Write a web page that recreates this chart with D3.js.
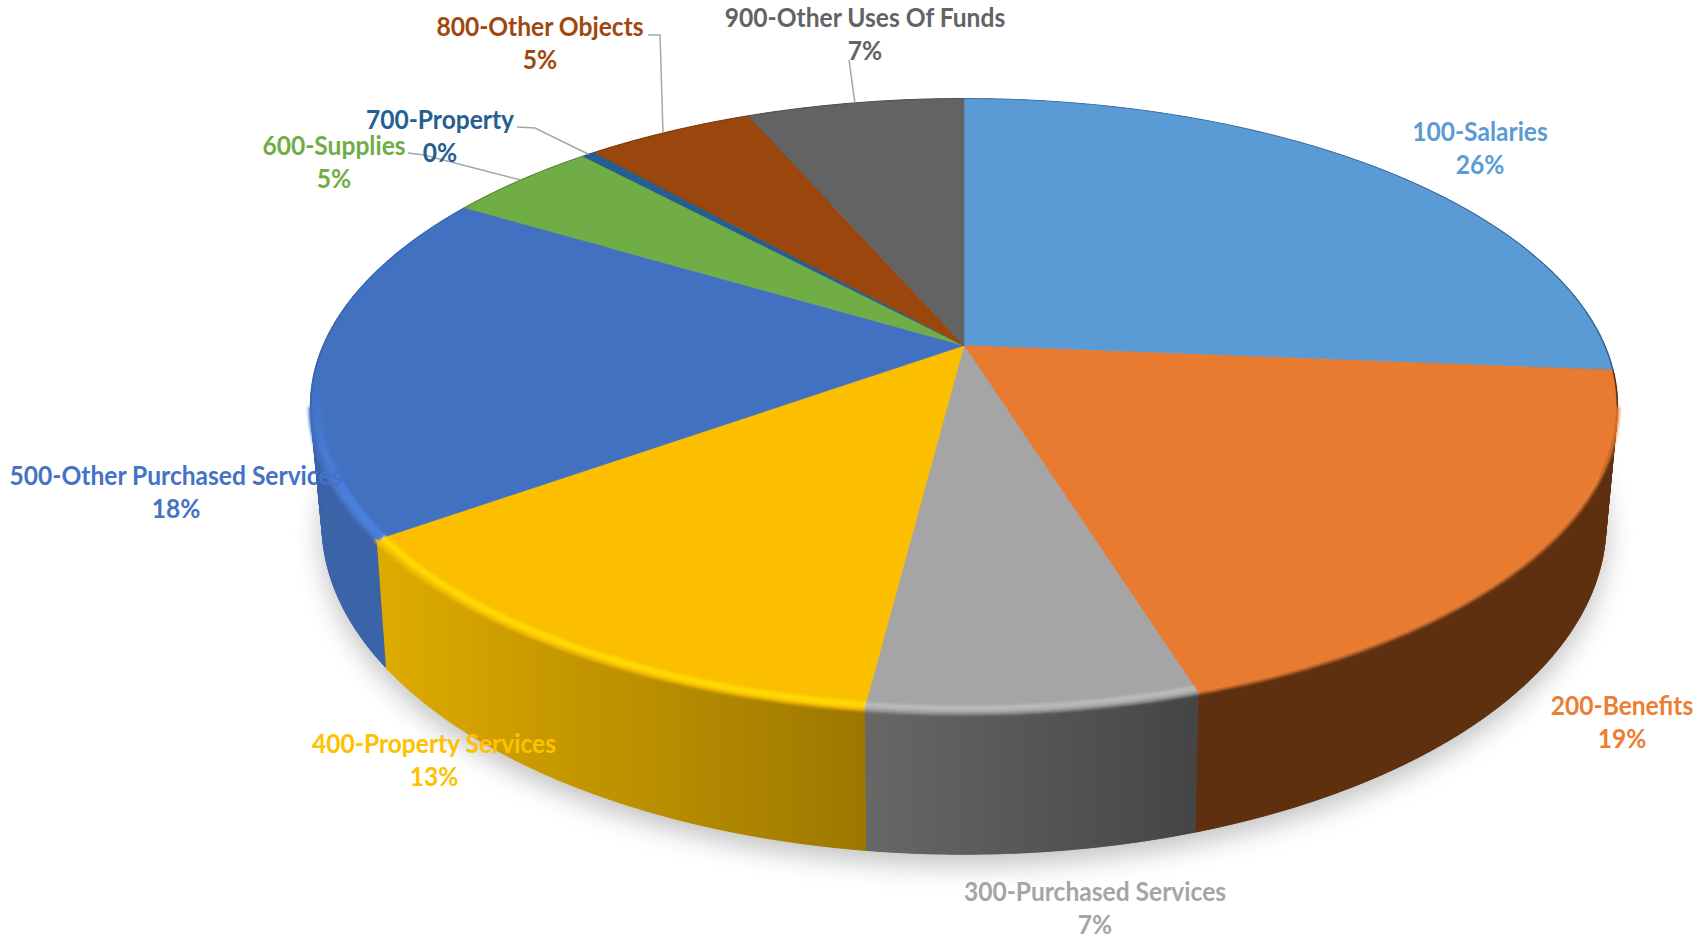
<!DOCTYPE html>
<html>
<head>
<meta charset="utf-8">
<script src="https://cdn.jsdelivr.net/npm/d3@7/dist/d3.min.js"></script>
<style>
html,body{margin:0;padding:0;background:#fff}
svg{display:block}
</style>
</head>
<body>
<svg id="chart" width="1704" height="939"></svg>
<script>
// Budget shares by object code
const categories = ["100-Salaries","200-Benefits","300-Purchased Services","400-Property Services",
  "500-Other Purchased Services","600-Supplies","700-Property","800-Other Objects","900-Other Uses Of Funds"];
const shares = [26.3,18.9,6.8,13.1,18.49,4.51,0.4,5.0,6.5];
const faceColors = ["#5B9BD5","#E97B30","#A5A5A5","#FBBF00","#4371C2","#70AD47","#255E91","#9A460C","#636363"];
const labelColors = ["#5B9BD5","#ED7D31","#A5A5A5","#FFC000","#4472C4","#70AD47","#255E91","#9E480E","#636363"];

// Text placement: centre x, baseline of the name line
const labelAnchors = [[1480,141],[1622,715],[1095,901],[434,753],[176,485],[334,155],[440,129],[540,36],[865,27]];
// Leader lines: elbow points and where along the slice's arc the line lands
const leaders = [
  {slice:5, elbow:[[408,153],[424,155]], along:0.5},
  {slice:6, elbow:[[517,127],[535,128]], along:0.5},
  {slice:7, elbow:[[648,35],[660,35]], along:0.46},
  {slice:8, elbow:[[849,60]], along:0.5}
];

const svg = d3.select("#chart");
const defs = svg.append("defs");

// Perspective projection of a unit disc: u to the right, v toward the viewer
const projector = (cx, cy, a, b, k) => (theta, r = 1) => {
  const u = r * Math.sin(theta), v = -r * Math.cos(theta), w = 1 - k * v;
  return [cx + a * u / w, cy + b * v / w];
};
const topDisc = projector(964, 345.6, 641, 295.3, 0.1954);
const baseDisc = projector(964, 458, 629, 317, 0.2);

const arcs = d3.pie().sort(null).value(d => d)(shares);
const line = d3.line();
const sampleAngles = (a0, a1) => {
  const n = Math.max(2, Math.ceil((a1 - a0) / 0.01));
  return d3.range(n + 1).map(i => a0 + (a1 - a0) * i / n);
};

const blurFilter = (id, sd) => defs.append("filter").attr("id",id)
  .attr("filterUnits","userSpaceOnUse").attr("x",0).attr("y",0).attr("width",1704).attr("height",939)
  .append("feGaussianBlur").attr("stdDeviation",sd);
blurFilter("shadowBlur",14);
blurFilter("edgeBlur",1.6);
blurFilter("bevelBlur",1.2);

const hGradient = (id, x1, c1, x2, c2) => {
  const g = defs.append("linearGradient").attr("id",id).attr("gradientUnits","userSpaceOnUse")
    .attr("x1",x1).attr("x2",x2).attr("y1",0).attr("y2",0);
  g.append("stop").attr("offset",0).attr("stop-color",c1);
  g.append("stop").attr("offset",1).attr("stop-color",c2);
};
hGradient("wallYellow",390,"#DCAA00",868,"#9C7700");
hGradient("wallGray",868,"#676767",1195,"#454545");
const wallFills = ["#2F5F8F","#5E3010","url(#wallGray)","url(#wallYellow)","#3A63A8","#4F7A32","#1B4368","#6E330A","#474747"];

// Soft ground shadow under the base
svg.append("path")
  .attr("d", line(sampleAngles(0, 2*Math.PI).map(t => {
    const p = baseDisc(t); return [p[0], p[1] + 10];
  })) + "Z")
  .attr("fill","#000").attr("opacity",0.25).attr("filter","url(#shadowBlur)");

// Outer walls: short quads keep the side silhouette filled, a single strip on top hides their seams
arcs.forEach((d, i) => {
  const ts = sampleAngles(d.startAngle, d.endAngle);
  const wall = svg.append("g").attr("fill", wallFills[i]).attr("stroke", wallFills[i]).attr("stroke-width",0.6);
  wall.selectAll("path").data(d3.pairs(ts)).join("path")
    .attr("d", ([t0, t1]) => line([topDisc(t0), topDisc(t1), baseDisc(t1), baseDisc(t0)]) + "Z");
  wall.append("path")
    .attr("d", line(ts.map(t => topDisc(t)).concat(ts.slice().reverse().map(t => baseDisc(t)))) + "Z");
});

// Soft seam where the face turns into the wall, on the visible front half only
const frontStart = Math.PI / 2 + 0.2, frontEnd = 3 * Math.PI / 2 - 0.2;
svg.append("g").attr("filter","url(#edgeBlur)").selectAll("path")
  .data(arcs.filter(d => d.endAngle > frontStart && d.startAngle < frontEnd)).join("path")
  .attr("d", d => line(sampleAngles(Math.max(d.startAngle, frontStart), Math.min(d.endAngle, frontEnd)).map(t => topDisc(t))))
  .attr("fill","none").attr("stroke",d => faceColors[d.index]).attr("stroke-width",4);

// Top faces
svg.append("g").selectAll("path").data(arcs).join("path")
  .attr("d", d => line([topDisc(0,0)].concat(sampleAngles(d.startAngle, d.endAngle).map(t => topDisc(t, 0.998)))) + "Z")
  .attr("fill", (d,i) => faceColors[i])
  .attr("stroke", (d,i) => faceColors[i]).attr("stroke-width",0.5);

// Bevel highlights along the front of the rim
const fade = defs.append("linearGradient").attr("id","blueBevel").attr("gradientUnits","userSpaceOnUse")
  .attr("x1",0).attr("x2",0).attr("y1",385).attr("y2",500);
fade.append("stop").attr("offset",0).attr("stop-color","#4A80DE").attr("stop-opacity",0);
fade.append("stop").attr("offset",1).attr("stop-color","#4A80DE").attr("stop-opacity",1);
const bevels = [
  {slice:4, color:"url(#blueBevel)", width:8},
  {slice:3, color:"#FFD900", width:6},
  {slice:2, color:"#B9B9B9", width:5}
];
const faceClip = defs.append("clipPath").attr("id","faceClip");
faceClip.append("path").attr("d", line(sampleAngles(0,2*Math.PI).map(t => topDisc(t, 1.004))) + "Z");
svg.append("g").attr("clip-path","url(#faceClip)").append("g").attr("filter","url(#bevelBlur)")
  .selectAll("path").data(bevels).join("path")
  .attr("d", d => {
    const s = arcs[d.slice];
    return line(sampleAngles(s.startAngle, s.endAngle).map(t => topDisc(t, 0.99)));
  })
  .attr("fill","none").attr("stroke", d => d.color).attr("stroke-width", d => d.width);

// Leader lines to the narrow slices
leaders.forEach(l => {
  const s = arcs[l.slice], t = s.startAngle + (s.endAngle - s.startAngle) * l.along;
  svg.append("path").attr("d", line(l.elbow.concat([topDisc(t, 1.0)])))
    .attr("fill","none").attr("stroke","#A6A6A6").attr("stroke-width",1.5);
});

// Two-line labels: name above, rounded share below
const labels = svg.append("g").attr("font-family","Lato, 'Open Sans', sans-serif")
  .attr("font-weight",700).attr("font-size",26).attr("text-anchor","middle");
categories.forEach((name, i) => {
  const [x, y] = labelAnchors[i];
  const g = labels.append("g").attr("fill", labelColors[i]);
  g.append("text").attr("x",x).attr("y",y).text(name);
  g.append("text").attr("x",x).attr("y",y + 32.5).text(Math.round(shares[i]) + "%");
});
// Narrow the glyphs to the compact proportions of the label face
labels.selectAll("text").each(function(){
  const len = this.getComputedTextLength();
  d3.select(this).attr("textLength", len * 0.945).attr("lengthAdjust","spacingAndGlyphs");
});
</script>
</body>
</html>
